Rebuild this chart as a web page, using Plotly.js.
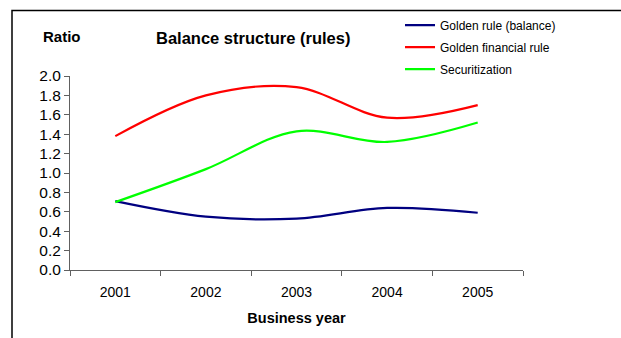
<!DOCTYPE html>
<html><head><meta charset="utf-8">
<script src="https://cdn.plot.ly/plotly-3.0.1.min.js"></script>
<style>html,body{margin:0;padding:0;background:#fff;overflow:hidden}#chart{width:621px;height:338px}</style>
</head><body><div id="chart"></div>
<script>
const years = ['2001','2002','2003','2004','2005'];
const goldenRule = [0.71, 0.55, 0.53, 0.64, 0.59];
const goldenFinancialRule = [1.38, 1.80, 1.885, 1.57, 1.70];
const securitization = [0.70, 1.04, 1.43, 1.32, 1.52];
const seriesNames = ['Golden rule (balance)', 'Golden financial rule', 'Securitization'];
const yTicks = [0,0.2,0.4,0.6,0.8,1.0,1.2,1.4,1.6,1.8,2.0];

const font = 'Liberation Sans, Arial, sans-serif';
function tr(y, name, color, g){
  return {x: years, y: y, name: name, type:'scatter', mode:'lines',
    line:{color:color, width:2.2, shape:'spline', smoothing:1}, legendgroup:g, hoverinfo:'skip'};
}
const data = [
  tr(goldenRule, seriesNames[0], '#000080','a'),
  tr(goldenFinancialRule, seriesNames[1], '#FF0000','b'),
  tr(securitization, seriesNames[2], '#00FF00','c')
];
const layout = {
  width:621, height:338,
  margin:{l:70, r:98, t:75, b:68},
  paper_bgcolor:'#fff', plot_bgcolor:'#fff',
  font:{family:font, color:'#000'},
  showlegend:true,
  legend:{x:0.7285, xanchor:'left', y:1.33, yanchor:'top', font:{size:12, family:font},
    tracegroupgap:3, bgcolor:'rgba(0,0,0,0)', itemwidth:30},
  xaxis:{type:'category', range:[-0.5,4.5], showgrid:false, zeroline:false,
    showline:true, linecolor:'#606060', linewidth:1, ticks:'outside', tickson:'boundaries',
    ticklen:5, tickcolor:'#606060', tickfont:{size:14, family:font}, ticklabelstandoff:9,
    title:{text:'<b>Business year</b>', font:{size:14.5, family:font}, standoff:14}},
  yaxis:{range:[0,2], tickvals:yTicks, ticktext:yTicks.map(v=>v.toFixed(1)),
    showgrid:false, zeroline:false, showline:true, linecolor:'#606060', linewidth:1,
    ticks:'outside', ticklen:5, tickcolor:'#606060', tickfont:{size:15.5, family:font}},
  annotations:[
    {text:'<b>Balance structure (rules)</b>', xref:'paper', yref:'paper', x:(253-70)/453, y:(270-38)/194.3,
     xanchor:'center', yanchor:'middle', showarrow:false, font:{size:16.5, family:font}},
    {text:'<b>Ratio</b>', xref:'paper', yref:'paper', x:(62-70)/453, y:(270-36)/194.3,
     xanchor:'center', yanchor:'middle', showarrow:false, font:{size:15, family:font}}
  ],
  shapes:[
    {type:'rect', xref:'paper', yref:'paper', x0:(12-70)/453, x1:(660-70)/453, y0:-0.6, y1:(270-10)/194.3,
     line:{color:'#000', width:1.5}, fillcolor:'rgba(0,0,0,0)'}
  ]
};
Plotly.newPlot('chart', data, layout, {staticPlot:true, displayModeBar:false});
</script></body></html>
